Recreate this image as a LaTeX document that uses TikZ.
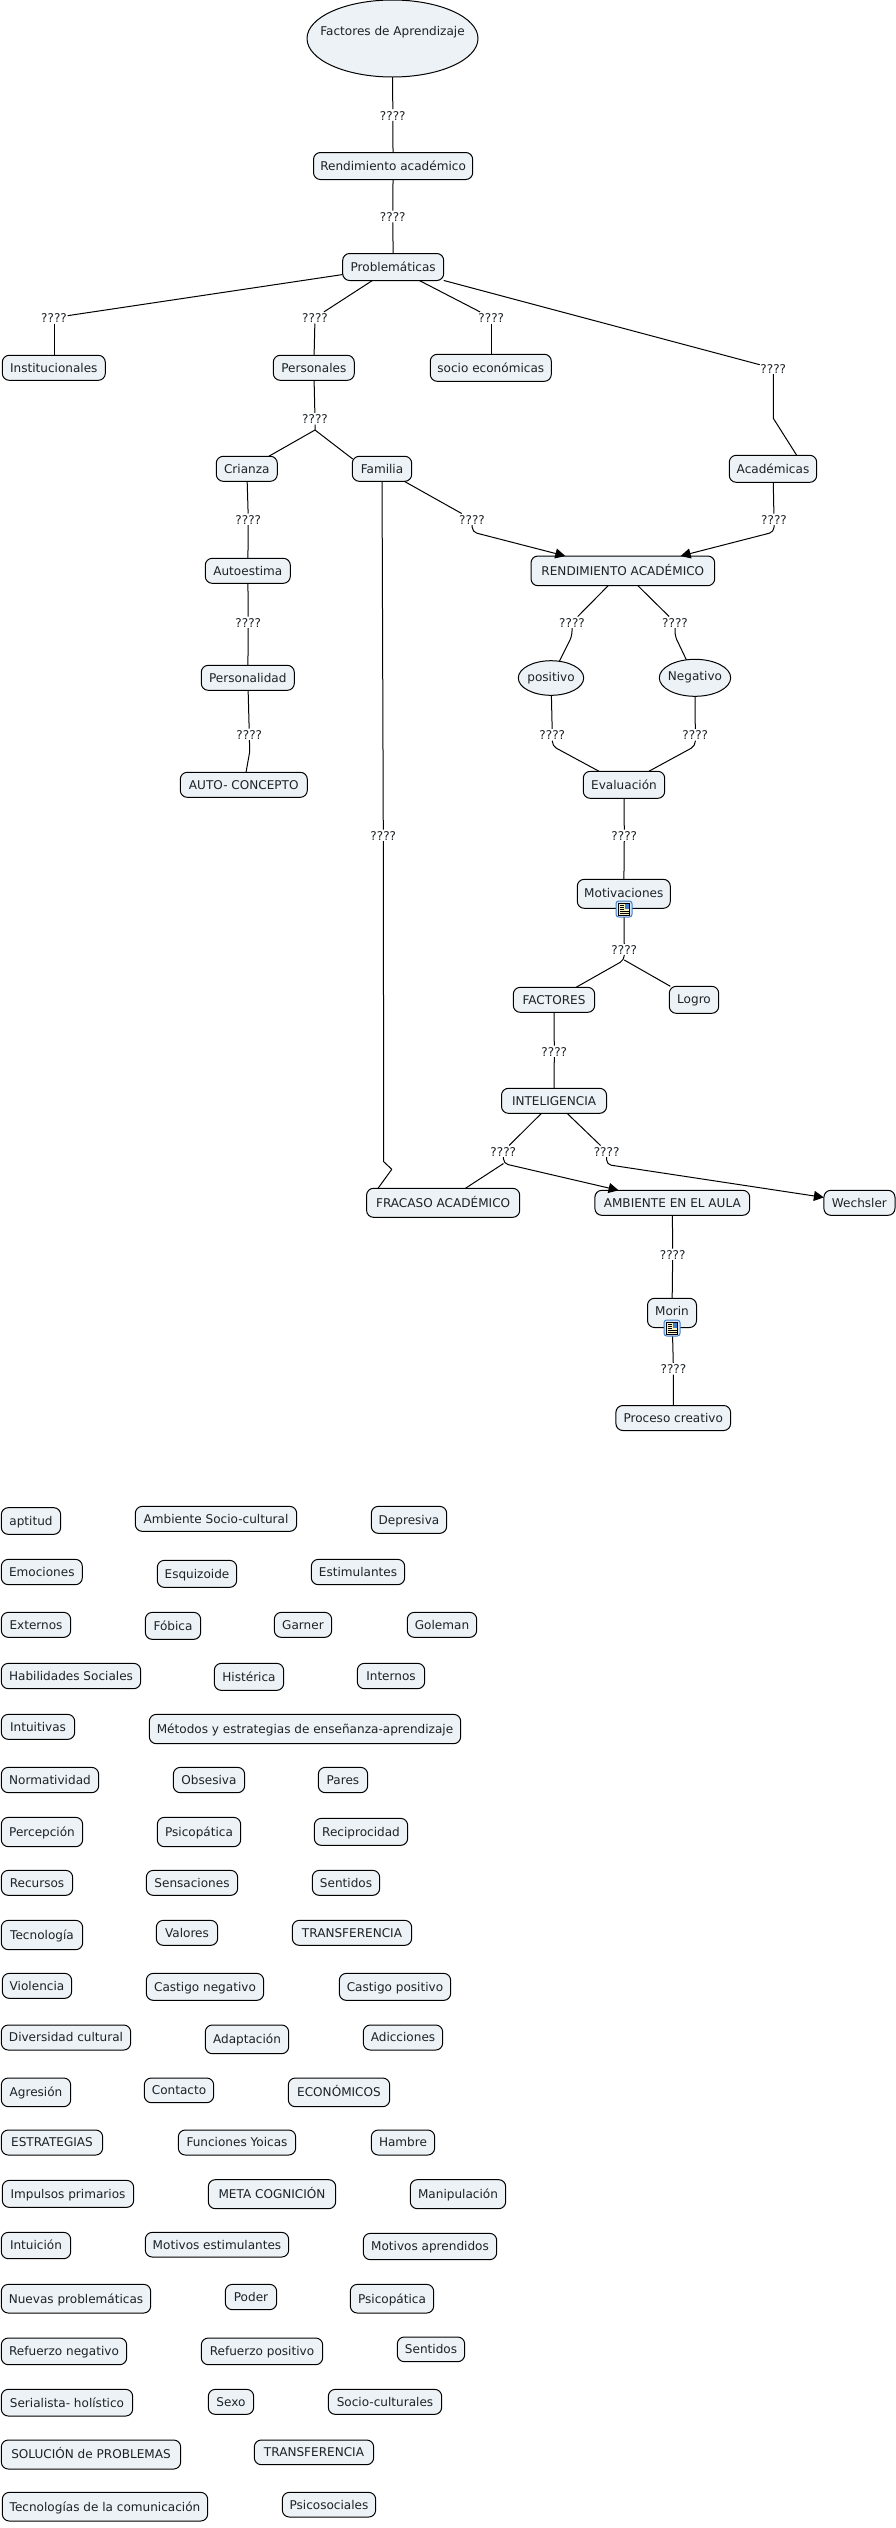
\documentclass[tikz,border=0pt]{standalone}
\usepackage{fontspec}
\setmainfont{DejaVu Sans}
\usetikzlibrary{arrows.meta,shapes.geometric}
\definecolor{boxfill}{HTML}{ECF2F5}
\definecolor{ink}{HTML}{1C2226}
\definecolor{iconblue}{HTML}{3F7FC8}
\definecolor{iconbg}{HTML}{D8E6F6}
\definecolor{iconpage}{HTML}{F7F1C6}
\tikzset{
  conc/.style={draw=black,line width=0.75pt,fill=boxfill,text=ink,inner sep=0pt,outer sep=0pt,
    font=\fontsize{9.05pt}{11pt}\selectfont,text height=7.8pt,text depth=1.2pt},
  cbox/.style={conc,rectangle,rounded corners=5.2pt},
  cell/.style={conc,ellipse},
  linklbl/.style={text=ink,inner sep=0.6pt,outer sep=0pt,font=\fontsize{9.05pt}{11pt}\selectfont,
    text height=7.5pt,text depth=0pt},
  lnk/.style={draw=black,line width=0.75pt,line join=round},
  lnkr/.style={lnk,rounded corners=3.5pt},
  tip/.style={-{Triangle[length=7.5pt,width=7.5pt]}},
}
\newcommand{\pb}[6]{\node[cbox,minimum width={(#4-#2)*0.75pt},minimum height={(#5-#3)*0.75pt}] (#1) at ({(#2+#4)/2},{(#3+#5)/2}) {#6};}
\newcommand{\pe}[6]{\node[cell,minimum width={(#4-#2)*0.75pt},minimum height={(#5-#3)*0.75pt}] (#1) at ({(#2+#4)/2},{(#3+#5)/2}) {\makebox[0pt]{\raisebox{1pt}{#6}}};}
\newcommand{\pl}[3]{\node[linklbl] (#1) at (#2,#3) {????};}
\newcommand{\zb}[7]{\node[cbox,minimum width={(#5-#3)/3*0.75pt},minimum height={(#6-#4)/3*0.75pt}] (#2) at ({(#3+#5)/6},{#1+(#4+#6)/6}) {#7};}
\newcommand{\docicon}[3]{%
  \node[draw=iconblue,fill=iconbg,line width=0.75pt,rounded corners=2pt,minimum width=12pt,minimum height=12pt,inner sep=0pt] (#1) at (#2,#3) {};
  \fill[iconpage,draw=black,line width=0.4pt] (#2-5.5,#3-6) rectangle (#2+5.5,#3+6);
  \fill[iconblue] (#2+0.5,#3-5) rectangle (#2+4.5,#3-0.5);
  \draw[black,line width=0.4pt] (#2-4.5,#3-4) -- (#2-0.5,#3-4) (#2-4.5,#3-2) -- (#2-0.5,#3-2) (#2-4.5,#3) -- (#2-0.5,#3)
     (#2-4.5,#3+2) -- (#2+4.5,#3+2) (#2-4.5,#3+4) -- (#2+4.5,#3+4);
}
\begin{document}
\begin{tikzpicture}[x=0.75pt,y=-0.75pt]
\useasboundingbox (0,0) rectangle (896,2528);
% main map concepts
\node[cell,minimum width={171*0.75pt},minimum height={77*0.75pt}] (fa) at (392.5,38.5) {\makebox[0pt]{\raisebox{5.9pt}{Factores de Aprendizaje}}};
\pb{ra}{313.5}{152.5}{472.7}{179.5}{Rendimiento académico}
\pb{pr}{342.7}{253.5}{443.7}{280.5}{Problemáticas}
\pb{ins}{2.3}{355.3}{105.3}{380.3}{Institucionales}
\pb{per}{273.3}{355.3}{354.3}{380.3}{Personales}
\pb{soc}{430.3}{354.3}{551.3}{381.3}{socio económicas}
\pb{aca}{729.3}{455.3}{816.7}{482.3}{Académicas}
\pb{cri}{216.3}{456.3}{277.3}{481.3}{Crianza}
\pb{fam}{352.3}{456.3}{411.7}{481.3}{Familia}
\pb{aut}{205.3}{558.3}{290.3}{583.3}{Autoestima}
\pb{pers}{201.3}{665.3}{294.3}{690.3}{Personalidad}
\pb{con}{180.3}{772.3}{307.3}{797.3}{AUTO- CONCEPTO}
\pb{rend}{531}{556}{714.7}{585.7}{RENDIMIENTO ACADÉMICO}
\pe{pos}{518.3}{660.7}{583.7}{695.3}{positivo}
\pe{neg}{659.3}{659.3}{730.7}{696.3}{Negativo}
\pb{eva}{583.3}{771.3}{664.7}{798.3}{Evaluación}
\pb{mot}{577.3}{879.3}{670.3}{908.3}{\raisebox{0.9pt}{Motivaciones}}
\pb{fac}{513.3}{987.3}{594.7}{1012.3}{FACTORES}
\pb{log}{669.3}{986.3}{718.7}{1013.3}{\raisebox{0.6pt}{Logro}}
\pb{int}{501.5}{1088.3}{606.6}{1113.3}{INTELIGENCIA}
\pb{fra}{366.6}{1188.3}{519.7}{1217.3}{FRACASO ACADÉMICO}
\pb{amb}{594.9}{1190.3}{749.7}{1215.3}{AMBIENTE EN EL AULA}
\pb{wec}{823.9}{1190.3}{895}{1215.3}{Wechsler}
\pb{mor}{647.5}{1298.3}{696.5}{1327.5}{\raisebox{1pt}{Morin}}
\pb{pro}{615.9}{1405.5}{730.6}{1430.5}{Proceso creativo}
% link labels
\pl{l1}{392.8}{115}
\pl{l2}{392.8}{216.5}
\pl{l3}{54}{317.7}
\pl{l4}{315}{317.7}
\pl{l5}{491.3}{317.7}
\pl{l6}{773.3}{368.3}
\pl{l7}{315}{418.7}
\pl{l8}{248.3}{519.3}
\pl{l9}{472}{519.3}
\pl{l10}{774}{519.3}
\pl{l11}{248.3}{622.3}
\pl{l12}{572}{622.3}
\pl{l13}{675}{622.3}
\pl{l14}{249.3}{734.3}
\pl{l15}{552.3}{734.7}
\pl{l16}{695.3}{734.7}
\pl{l17}{383.3}{835.3}
\pl{l18}{624.3}{835.3}
\pl{l19}{624.3}{949.7}
\pl{l20}{554.3}{1051.3}
\pl{l21}{503.3}{1151.3}
\pl{l22}{606.6}{1151.3}
\pl{l23}{672.7}{1254.3}
\pl{l24}{673.4}{1368.7}
% bend points
\coordinate (b6) at (773.3,418.3);
\coordinate (a6) at (796.7,455.3);
\coordinate (b7) at (315,430);
\coordinate (a7) at (352.7,459);
\coordinate (b9) at (472.3,532);
\coordinate (b10) at (774,532);
\coordinate (b12) at (572,636);
\coordinate (b13) at (675,636);
\coordinate (b14) at (249.7,751.7);
\coordinate (b15) at (552.3,746);
\coordinate (b16) at (695.3,746);
\coordinate (b19) at (624.3,960);
\coordinate (c17a) at (383.7,1161.7);
\coordinate (c17b) at (391.8,1169.3);
\coordinate (a17) at (378,1188.3);
\coordinate (b21) at (503.5,1163.5);
\coordinate (b22) at (606.6,1164.5);
% connectors
\draw[lnk] (fa) -- (l1);
\draw[lnk] (l1) -- (ra);
\draw[lnk] (ra) -- (l2);
\draw[lnk] (l2) -- (pr);
\draw[lnk] (pr) -- (l3);
\draw[lnk] (l3) -- (l3 |- ins.north);
\draw[lnk] (pr) -- (l4);
\draw[lnk] (l4) -- (per);
\draw[lnk] (pr) -- (l5);
\draw[lnk] (l5) -- (l5 |- soc.north);
\draw[lnk] (pr) -- (l6);
\draw[lnk] (l6) -- (b6) -- (a6);
\draw[lnk] (per) -- (l7);
\draw[lnk] (l7) -- (b7) -- (cri);
\draw[lnk] (b7) -- (a7);
\draw[lnk] (cri) -- (l8);
\draw[lnk] (l8) -- (aut);
\draw[lnk] (aut) -- (l11);
\draw[lnk] (l11) -- (pers);
\draw[lnk] (pers) -- (l14);
\draw[lnk] (l14) -- (b14) -- (con);
\draw[lnk] (fam) -- (l9);
\draw[lnkr,tip] (l9) -- (b9) -- (rend);
\draw[lnk] (aca) -- (l10);
\draw[lnkr,tip] (l10) -- (b10) -- (rend);
\draw[lnk] (rend) -- (l12);
\draw[lnk] (rend) -- (l13);
\draw[lnkr] (l12) -- (b12) -- (pos);
\draw[lnkr] (l13) -- (b13) -- (neg);
\draw[lnk] (pos) -- (l15);
\draw[lnk] (neg) -- (l16);
\draw[lnkr] (l15) -- (b15) -- (eva);
\draw[lnkr] (l16) -- (b16) -- (eva);
\draw[lnk] (eva) -- (l18);
\draw[lnk] (l18) -- (mot);
\draw[lnk] (mot) -- (l19);
\draw[lnkr] (l19) -- (b19) -- (fac);
\draw[lnkr] (b19) -- (log);
\draw[lnk] (fac) -- (l20);
\draw[lnk] (l20) -- (int);
\draw[lnk] (int) -- (l21);
\draw[lnk] (int) -- (l22);
\draw[lnk] (fam) -- (l17);
\draw[lnk] (l17) -- (c17a) -- (c17b) -- (a17);
\draw[lnk] (b21) -- (fra);
\draw[lnkr,tip] (l21) -- (b21) -- (amb);
\draw[lnkr,tip] (l22) -- (b22) -- (wec);
\draw[lnk] (amb) -- (l23);
\draw[lnk] (l23) -- (mor);
\draw[lnk] (mor) -- (l24);
\draw[lnk] (l24) -- (pro);
% resource icons
\docicon{ic1}{624}{909}
\docicon{ic2}{672}{1328}
% free concepts, first block
\zb{1490}{c01}{4}{53}{182}{133}{aptitud}
\zb{1490}{c02}{406}{49}{890}{124}{Ambiente Socio-cultural}
\zb{1490}{c03}{1114}{49}{1340}{130}{Depresiva}
\zb{1490}{c04}{4}{208}{247}{284}{Emociones}
\zb{1490}{c05}{472}{211}{710}{292}{Esquizoide}
\zb{1490}{c06}{934}{208}{1214}{284}{Estimulantes}
\zb{1490}{c07}{4}{367}{212}{442}{Externos}
\zb{1490}{c08}{436}{367}{602}{448}{Fóbica}
\zb{1490}{c09}{823}{367}{995}{442}{Garner}
\zb{1490}{c10}{1222}{367}{1430}{442}{Goleman}
\zb{1490}{c11}{4}{520}{422}{596}{Habilidades Sociales}
\zb{1490}{c12}{643}{520}{851}{601}{Histérica}
\zb{1490}{c13}{1072}{520}{1274}{596}{Internos}
\zb{1490}{c14}{4}{673}{224}{748}{Intuitivas}
\zb{1490}{c15}{448}{673}{1382}{761}{Métodos y estrategias de enseñanza-aprendizaje}
\zb{1490}{c16}{4}{832}{296}{908}{Normatividad}
\zb{1490}{c17}{520}{832}{734}{908}{Obsesiva}
\zb{1490}{c18}{955}{832}{1103}{908}{Pares}
\zb{1490}{c19}{4}{982}{248}{1070}{Percepción}
\zb{1490}{c20}{472}{982}{722}{1070}{Psicopática}
\zb{1490}{c21}{943}{985}{1223}{1066}{Reciprocidad}
\zb{1490}{c22}{4}{1141}{218}{1216}{Recursos}
\zb{1490}{c23}{439}{1141}{713}{1216}{Sensaciones}
\zb{1490}{c24}{937}{1141}{1139}{1216}{Sentidos}
\zb{1490}{c25}{4}{1291}{248}{1379}{Tecnología}
\zb{1490}{c26}{469}{1291}{653}{1366}{Valores}
\zb{1490}{c27}{877}{1291}{1235}{1366}{TRANSFERENCIA}
\zb{1490}{c28}{7}{1450}{215}{1525}{Violencia}
\zb{1490}{c29}{439}{1450}{791}{1531}{Castigo negativo}
\zb{1490}{c30}{1018}{1450}{1352}{1531}{Castigo positivo}
% free concepts, second block
\zb{2000}{d01}{4}{75}{392}{150}{Diversidad cultural}
\zb{2000}{d02}{616}{75}{866}{161}{Adaptación}
\zb{2000}{d03}{1090}{75}{1328}{150}{Adicciones}
\zb{2000}{d04}{4}{234}{212}{320}{Agresión}
\zb{2000}{d05}{433}{234}{641}{308}{Contacto}
\zb{2000}{d06}{865}{234}{1169}{320}{ECONÓMICOS}
\zb{2000}{d07}{4}{390}{308}{465}{ESTRATEGIAS}
\zb{2000}{d08}{535}{390}{887}{465}{Funciones Yoicas}
\zb{2000}{d09}{1114}{390}{1304}{465}{Hambre}
\zb{2000}{d10}{7}{541}{401}{622}{Impulsos primarios}
\zb{2000}{d11}{625}{539}{1007}{626}{META COGNICIÓN}
\zb{2000}{d12}{1231}{539}{1517}{626}{Manipulación}
\zb{2000}{d13}{4}{697}{212}{776}{Intuición}
\zb{2000}{d14}{436}{697}{866}{771}{Motivos estimulantes}
\zb{2000}{d15}{1090}{700}{1490}{779}{Motivos aprendidos}
\zb{2000}{d16}{4}{853}{452}{939}{Nuevas problemáticas}
\zb{2000}{d17}{676}{853}{830}{929}{Poder}
\zb{2000}{d18}{1051}{853}{1301}{939}{Psicopática}
\zb{2000}{d19}{4}{1014}{380}{1094}{Refuerzo negativo}
\zb{2000}{d20}{604}{1014}{968}{1094}{Refuerzo positivo}
\zb{2000}{d21}{1192}{1011}{1394}{1085}{Sentidos}
\zb{2000}{d22}{4}{1168}{398}{1248}{Serialista- holístico}
\zb{2000}{d23}{625}{1168}{761}{1243}{Sexo}
\zb{2000}{d24}{985}{1168}{1325}{1243}{Socio-culturales}
\zb{2000}{d25}{4}{1320}{542}{1407}{SOLUCIÓN de PROBLEMAS}
\zb{2000}{d26}{763}{1320}{1121}{1394}{TRANSFERENCIA}
\zb{2000}{d27}{7}{1477}{623}{1563}{Tecnologías de la comunicación}
\zb{2000}{d28}{847}{1477}{1127}{1551}{Psicosociales}
\end{tikzpicture}
\end{document}
